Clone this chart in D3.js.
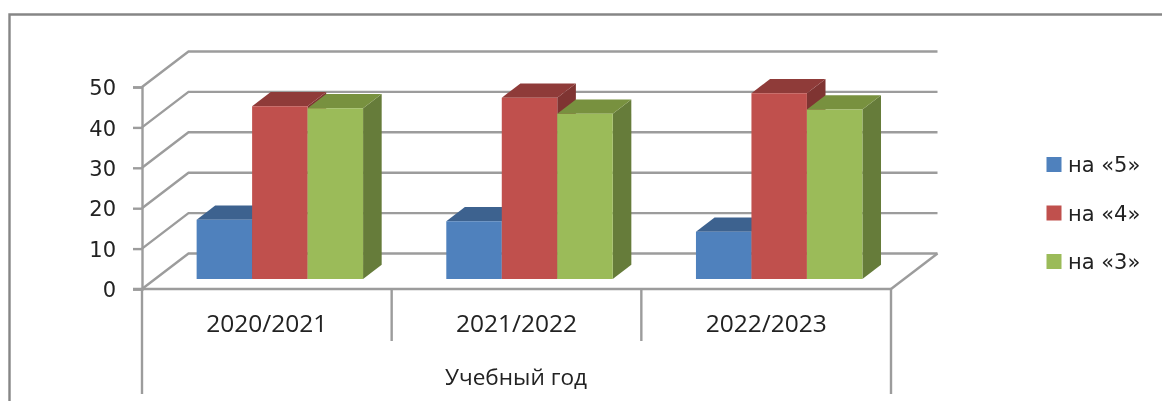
<!DOCTYPE html>
<html lang="ru">

<head>
    <meta charset="UTF-8" />
    <title>Учебный год</title>
    <script src="https://d3js.org/d3.v7.min.js"></script>
    <style>
        body {
            margin: 0;
            background: #fff;
        }

        svg {
            display: block;
            filter: blur(0.45px);
        }

        text {
            fill: #222;
        }
    </style>
</head>

<body>
    <svg id="chart" width="1162" height="401"></svg>

    <script>
        const categories = ["2020/2021", "2021/2022", "2022/2023"];
        const seriesNames = ["на «5»", "на «4»", "на «3»"];
        const valuesFive = [14.7, 14.3, 11.7];
        const valuesFour = [42.8, 44.9, 46];
        const valuesThree = [42.3, 40.9, 42];
        const yTicks = [0, 10, 20, 30, 40, 50];
        const axisTitle = "Учебный год";

        const allValues = [valuesFive, valuesFour, valuesThree];
        const colors = [
            { front: "#4f81bd", top: "#3d628f", side: "#375a84" },
            { front: "#c0504d", top: "#8f3b39", side: "#7f3432" },
            { front: "#9bbb59", top: "#78913f", side: "#667c3a" }
        ];
        const gridColor = "#9c9c9c";

        const svg = d3.select("#chart");

        // Rahmen
        svg.append("path")
            .attr("d", "M9.5,401V14.5H1162")
            .attr("fill", "none")
            .attr("stroke", "#868686")
            .attr("stroke-width", 2.4);

        const x = d3.scaleBand().domain(categories).range([142, 891]);
        const y = d3.scaleLinear().domain([0, 50]).range([289, 87]);
        const xInner = d3.scaleBand().domain(seriesNames).range([0, x.bandwidth()]).paddingOuter(0.75);

        // Tiefe: 0 = vorne, 1 = Rückwand
        const depth = d3.scaleLinear().domain([0, 1]);
        const depthX = depth.copy().range([0, 46.5]);
        const depthY = depth.copy().range([0, -35.5]);
        const pt = (px, v, d) => [px + depthX(d), y(v) + depthY(d)];
        const line = d3.line();

        const grid = svg.append("g")
            .attr("fill", "none")
            .attr("stroke", gridColor)
            .attr("stroke-width", 2.4);

        // Gitterlinien Rückwand und linke Wand
        yTicks.forEach(t => {
            grid.append("path").attr("d", line([[142, y(t)], pt(142, t, 1), pt(891, t, 1)]));
        });
        // Boden
        grid.append("path").attr("d", line([[891, y(0)], pt(891, 0, 1)]));

        // Y-Achse
        svg.append("g")
            .attr("transform", "translate(142,0)")
            .call(d3.axisLeft(y).tickValues(yTicks).tickSize(9).tickPadding(17))
            .call(g => g.selectAll("line,path").attr("stroke", gridColor).attr("stroke-width", 2.4))
            .call(g => g.selectAll("text")
                .attr("y", 1)
                .attr("font-family", "DejaVu Sans")
                .attr("font-size", 21)
                .attr("fill", "#222"));

        // X-Achse mit zweistufigen Trennlinien
        grid.append("path").attr("d", line([[133, y(0)], [891, y(0)]]));
        grid.append("path").attr("d", line([[142, y(0)], [142, 394]]));
        grid.append("path").attr("d", line([[891, y(0)], [891, 394]]));
        categories.slice(1).forEach(c => {
            grid.append("path").attr("d", line([[x(c), y(0)], [x(c), 341]]));
        });

        svg.append("g").selectAll("text")
            .data(categories)
            .join("text")
            .attr("x", d => x(d) + x.bandwidth() / 2)
            .attr("y", 332)
            .attr("text-anchor", "middle")
            .attr("font-family", "Open Sans")
            .attr("font-size", 24.5)
            .text(d => d);

        svg.append("text")
            .attr("x", 516)
            .attr("y", 385)
            .attr("text-anchor", "middle")
            .attr("font-family", "Open Sans")
            .attr("font-size", 22.6)
            .text(axisTitle);

        // Balken
        const dFront = 0.28, dBack = 0.68;
        seriesNames.forEach((name, s) => {
            const g = svg.append("g");
            categories.forEach((c, i) => {
                const v = allValues[s][i];
                const x0 = x(c) + xInner(name), x1 = x0 + xInner.bandwidth();
                const a = pt(x0, v, dFront), b = pt(x1, v, dFront);
                const c0 = pt(x1, v, dBack), d0 = pt(x0, v, dBack);
                const e = pt(x1, 0, dFront), f = pt(x1, 0, dBack);
                const h = pt(x0, 0, dFront);
                g.append("path").attr("d", line([b, c0, f, e]) + "Z").attr("fill", colors[s].side);
                g.append("path").attr("d", line([a, b, c0, d0]) + "Z").attr("fill", colors[s].top);
                g.append("path").attr("d", line([a, b, e, h]) + "Z").attr("fill", colors[s].front);
            });
        });

        // Legende
        const legendY = d3.scalePoint().domain(seriesNames).range([164, 261]);
        const legend = svg.append("g").selectAll("g")
            .data(seriesNames)
            .join("g")
            .attr("transform", d => `translate(0,${legendY(d)})`);
        legend.append("rect")
            .attr("x", 1046.5)
            .attr("y", -7)
            .attr("width", 15)
            .attr("height", 15)
            .attr("fill", (d, i) => colors[i].front);
        legend.append("text")
            .attr("x", 1068)
            .attr("y", 8)
            .attr("font-family", "DejaVu Sans")
            .attr("font-size", 21)
            .text(d => d);
    </script>
</body>

</html>
